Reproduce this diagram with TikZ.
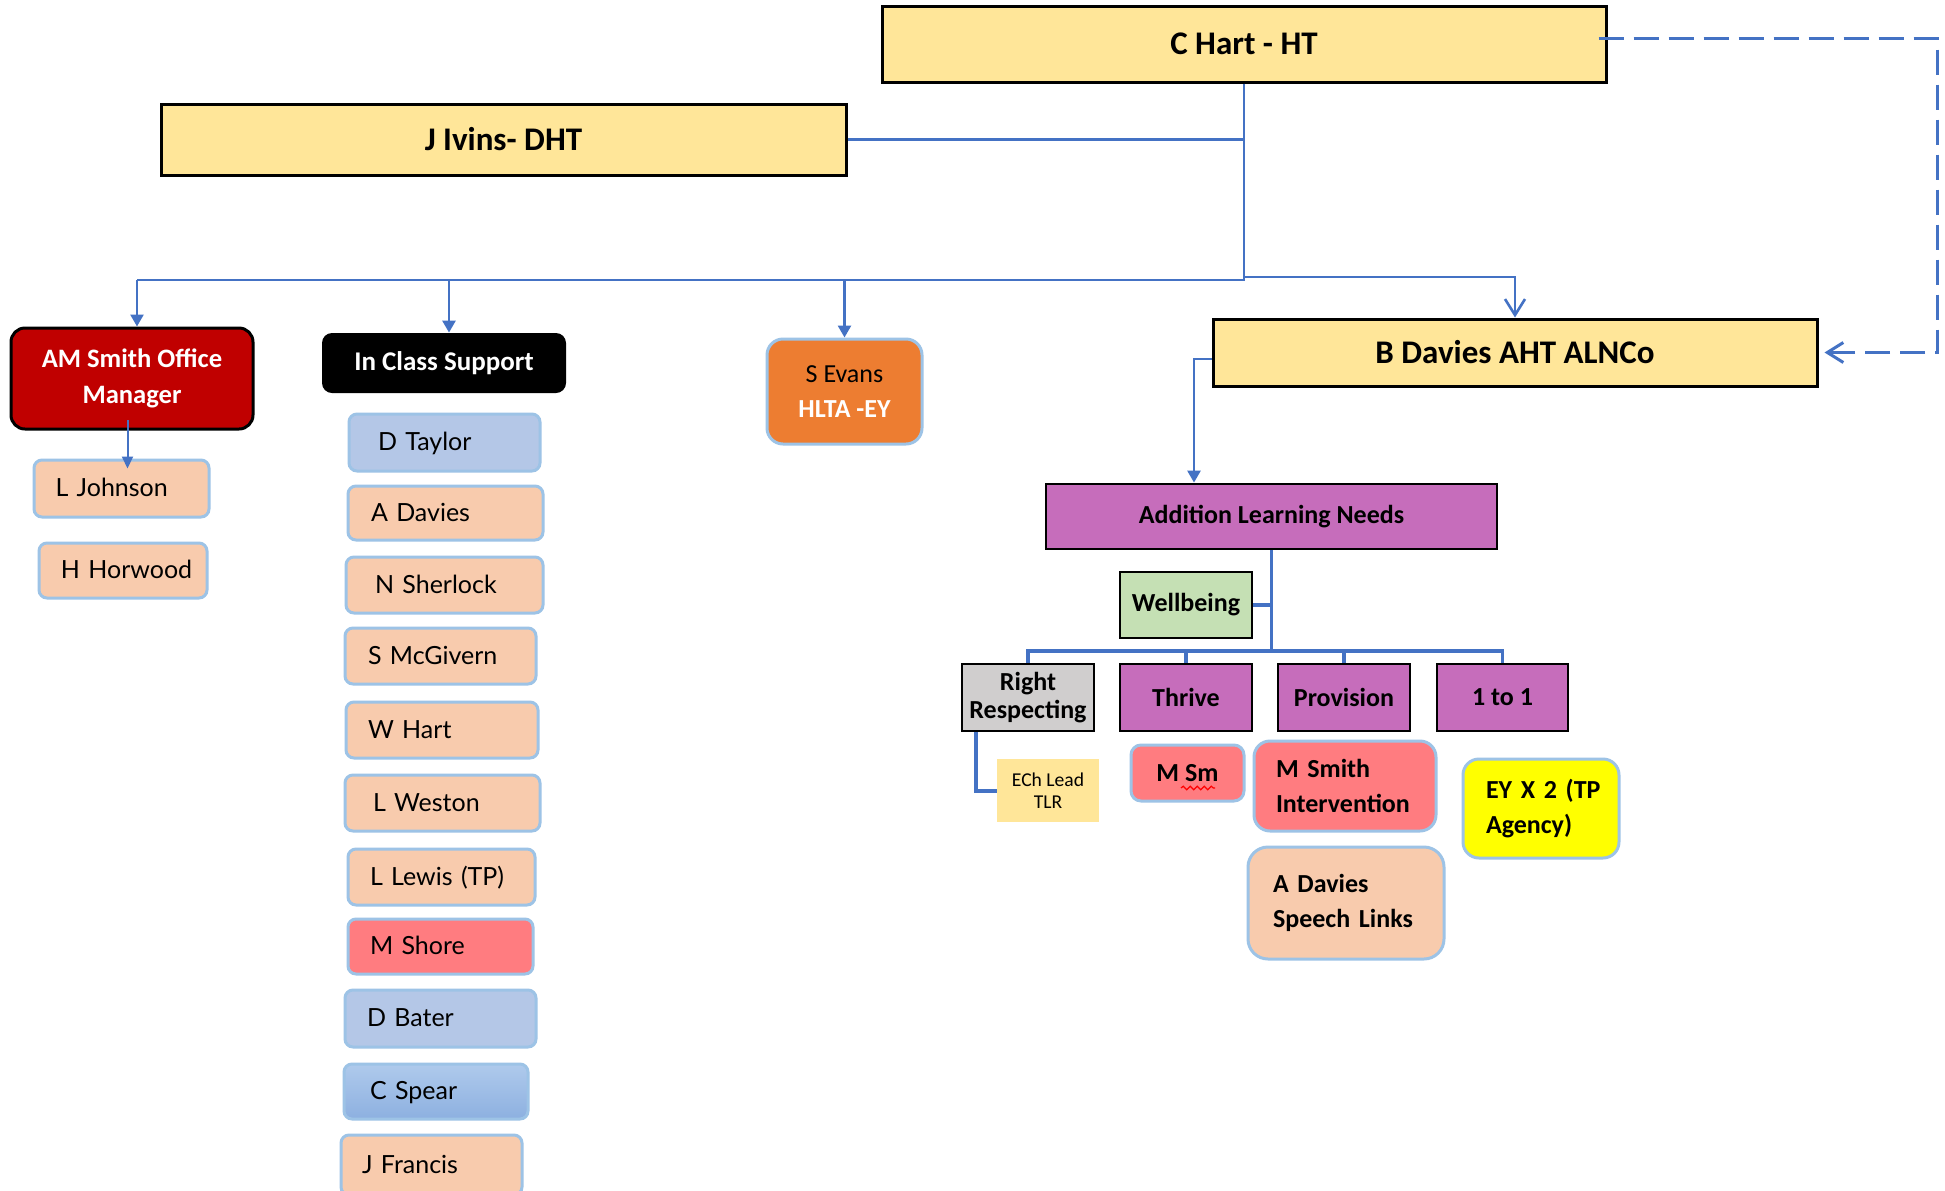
\documentclass[tikz,border=0pt]{standalone}
\usepackage{fontspec}
\setmainfont{Carlito}
\newfontfamily\latof[WordSpace=0.75]{Lato}
\usetikzlibrary{arrows.meta,decorations.pathmorphing}
\definecolor{cblue}{HTML}{4472C4}
\definecolor{hdyellow}{HTML}{FFE699}
\definecolor{alnpurple}{HTML}{C66DBB}
\definecolor{wbgreen}{HTML}{C5E0B4}
\definecolor{rrgrey}{HTML}{D0CECE}
\definecolor{peach}{HTML}{F8CBAD}
\definecolor{lblue}{HTML}{B4C7E7}
\definecolor{pinkred}{HTML}{FF7C80}
\definecolor{sorange}{HTML}{ED7D31}
\definecolor{darkred}{HTML}{C00000}
\definecolor{brightyellow}{HTML}{FFFF00}
\definecolor{edgeblue}{HTML}{9DC3E6}
\definecolor{spearTop}{HTML}{AFCAEC}
\definecolor{spearBot}{HTML}{8DB0E0}
\newcommand\pd[1]{\hspace*{#1pt}}
\begin{document}
\begin{tikzpicture}[x=0.5pt,y=-0.5pt,
  head/.style 2 args={draw=black, line width=1.5pt, fill=hdyellow, minimum width=#1pt, minimum height=#2pt, inner sep=0pt, font=\fontsize{16.5}{20}\selectfont\bfseries},
  sq/.style n args={3}{draw=black, line width=1.4pt, fill=#1, minimum width=#2pt, minimum height=#3pt, inner sep=0pt, align=center, font=\fontsize{13}{14}\selectfont\bfseries},
  staff/.style n args={3}{draw=edgeblue, line width=1.5pt, fill=#1, rounded corners=4pt, minimum width=#2pt, minimum height=#3pt, inner sep=0pt, text width=#2pt, text height=10pt, text depth=2pt, align=left, font=\latof\fontsize{12.5}{15}\selectfont},
  rbox/.style n args={3}{draw=edgeblue, line width=1.5pt, fill=#1, rounded corners=8pt, minimum width=#2pt, minimum height=#3pt, inner sep=0pt, text width=#2pt, align=left, font=\fontsize{13}{17.5}\selectfont\bfseries},
  conn/.style={draw=cblue, line width=1.3pt},
  tree/.style={draw=cblue, line width=1.8pt},
  tri/.style={-{Triangle[width=6.5pt,length=6pt]}},
  barb/.style={-{Straight Barb[width=10pt,length=8pt]}},
]
\useasboundingbox (0,0) rectangle (1945,1190);
\clip (0,0) rectangle (1945,1190);
\fill[white] (0,0) rectangle (1945,1190);

% top level
\node[head={362}{38}] (CH) at (1244,44) {C Hart - HT};
\node[head={342.5}{35.5}] (JI) at (503.5,139.5) {J Ivins- DHT};
\node[head={302}{33.5}] (BD) at (1515,352.5) {B Davies AHT ALNCo};

% second level
\node[draw=black, line width=1.5pt, fill=darkred, rounded corners=7pt, minimum width=121pt, minimum height=50.5pt, align=center, text=white, inner sep=0pt, font=\fontsize{13.3}{18}\selectfont\bfseries] (AMS) at (132,378.5) {AM Smith Office\\Manager};
\node[fill=black, rounded corners=5pt, minimum width=122pt, minimum height=30pt, text=white, inner sep=0pt, font=\fontsize{13.5}{16}\selectfont\bfseries] (ICS) at (444,363) {In Class Support};
\node[draw=edgeblue, line width=1.5pt, fill=sorange, rounded corners=8pt, minimum width=77.5pt, minimum height=52.5pt, align=center, inner sep=0pt, font=\fontsize{13}{17.5}\selectfont] (SE) at (844.5,391.5) {S Evans\\\textcolor{white}{\bfseries HLTA -EY}};

% office staff
\node[staff={peach}{87.5}{28.5}] (LJ) at (121.5,488.5) {\pd{10.75}L Johnson};
\node[staff={peach}{84}{27.5}] (HH) at (123,570.5) {\pd{11}H Horwood};

% in class support staff
\node[staff={lblue}{95.5}{28.5}] (DT) at (444.5,442.5) {\pd{14.5}D Taylor};
\node[staff={peach}{97.5}{27}] (AD) at (445.5,513) {\pd{11.5}A Davies};
\node[staff={peach}{98.5}{28}] (NS) at (444.5,585) {\pd{14.5}N Sherlock};
\node[staff={peach}{95.5}{28}] (SM) at (440.5,656) {\pd{11.5}S McGivern};
\node[staff={peach}{96}{28}] (WH) at (442,730) {\pd{11}W Hart};
\node[staff={peach}{97.5}{28}] (LW) at (442.5,803) {\pd{14}L Weston};
\node[staff={peach}{93.5}{28}] (LL) at (441.5,877) {\pd{11}L Lewis (TP)};
\node[staff={pinkred}{92.5}{27.5}] (MS) at (440.5,946.5) {\pd{11}M Shore};
\node[staff={lblue}{95.5}{28.5}] (DB) at (440.5,1018.5) {\pd{11}D Bater};
\node[staff={lblue}{92}{27.5}, top color=spearTop, bottom color=spearBot] (CS) at (436,1091.5) {\pd{13}C Spear};
\node[staff={peach}{90.5}{30}] (JF) at (431.5,1165) {\pd{10.5}J Francis};

% ALN tree
\node[sq={alnpurple}{225.5}{32.5}] (ALN) at (1271.5,516.5) {Addition Learning Needs};
\node[sq={wbgreen}{66}{33}] (WB) at (1186,605) {Wellbeing};
\node[sq={rrgrey}{66}{33.5}] (RR) at (1028,697.5) {Right\\Respecting};
\node[sq={alnpurple}{66}{33.5}] (TH) at (1186,697.5) {Thrive};
\node[sq={alnpurple}{66}{33.5}] (PR) at (1344,697.5) {Provision};
\node[sq={alnpurple}{65.5}{33.5}] (OO) at (1502.5,697.5) {1 to 1};
\node[fill=hdyellow, minimum width=51pt, minimum height=31.5pt, align=center, inner sep=0pt, font=\fontsize{9.8}{11}\selectfont] (ECh) at (1048,790.5) {ECh Lead\\TLR};
\node[draw=edgeblue, line width=1.5pt, fill=pinkred, rounded corners=5pt, minimum width=56.5pt, minimum height=28pt, inner sep=0pt, font=\fontsize{13}{15}\selectfont\bfseries] (MSm) at (1187.5,773) {M Sm};
\node[rbox={pinkred}{91}{45}] (MSI) at (1345,786) {\pd{11}M Smith\\\pd{11}Intervention};
\node[rbox={peach}{98}{56}, rounded corners=10pt] (ADS) at (1346,903) {\pd{12.5}A Davies\\\pd{12.5}Speech Links};
\node[rbox={brightyellow}{78}{49.5}] (EY) at (1541,808.5) {\pd{11.5}EY X 2 (TP\\\pd{11.5}Agency)};

% spell-check squiggle under "Sm"
\draw[red, line width=0.6pt, decorate, decoration={snake, amplitude=0.9pt, segment length=3.5pt}] (1181,788) -- (1215,788);

% connector coordinates
\coordinate (tj) at (1244,280);
\coordinate (busL) at (137,280);
\coordinate (busICS) at (449,280);
\coordinate (tj2) at (1244,277);
\coordinate (dTR) at (1937,38);
\coordinate (dS) at ([xshift=-4.5pt]CH.east);
\coordinate (bdl) at (1194,359);
\coordinate (ljs) at (127.5,420);
\path (ljs |- LJ.north) coordinate (ljn);
\coordinate (lje) at ([yshift=-5pt]ljn);
\coordinate (rrc) at (976,791);

% top connectors
\draw[conn] (CH.south) -- (tj) -- (busL);
\draw[conn] (JI.east) -- (JI.east -| tj);
\draw[conn,tri] (busL) -- (busL |- AMS.north);
\draw[conn,tri] (busICS) -- (busICS |- ICS.north);
\draw[conn,tri] (SE.north |- tj) -- (SE.north);
\draw[conn,barb] (tj2) -- (tj2 -| BD.north) -- (BD.north);
\draw[conn,barb,line width=1.5pt,dash pattern=on 12.5pt off 5pt] (dS |- dTR) -- (dTR) -- (dTR |- BD.east) -- ([xshift=3pt]BD.east);
\draw[conn,tri] (BD.west |- bdl) -- (bdl) -- (bdl |- ALN.north);
\draw[draw=cblue, line width=1pt, -{Triangle[width=5.5pt,length=6pt]}] (ljs) -- (lje);

% ALN tree connectors
\draw[tree] (ALN.south) -- (ALN.south |- 0,651);
\draw[tree] (RR.north) -- (RR.north |- 0,651) -- (OO.north |- 0,651) -- (OO.north);
\draw[tree] (TH.north) -- (TH.north |- 0,651);
\draw[tree] (PR.north) -- (PR.north |- 0,651);
\draw[tree] (WB.east) -- (WB.east -| ALN.south);
\draw[tree] (RR.south -| rrc) -- (rrc) -- (rrc -| ECh.west);
\end{tikzpicture}
\end{document}
